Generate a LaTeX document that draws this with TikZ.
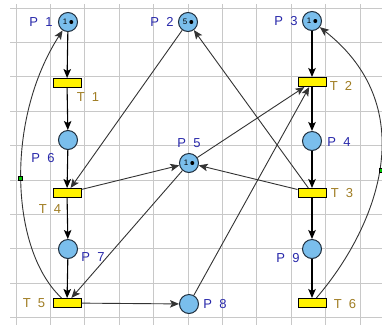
\documentclass[tikz,border=0pt]{standalone}
\usepackage{fontspec}
\setmainfont{Liberation Sans}
\newfontfamily\labfont[WordSpace=2]{Liberation Sans}
\usetikzlibrary{arrows.meta}
\definecolor{placefill}{RGB}{122,190,236}
\definecolor{placeline}{RGB}{30,45,60}
\definecolor{gridc}{RGB}{200,200,200}
\definecolor{plabel}{RGB}{40,40,170}
\definecolor{tlabel}{RGB}{160,125,35}
\definecolor{mark}{RGB}{0,200,0}
\tikzset{
  place/.style={circle,draw=placeline,fill=placefill,line width=1pt,minimum size=19pt,inner sep=0pt},
  trans/.style={rectangle,draw=black,fill=yellow,line width=1pt,minimum width=28pt,minimum height=9pt,inner sep=0pt},
  plab/.style={text=plabel,font=\labfont\fontsize{13}{15}\selectfont,inner sep=0pt},
  tlab/.style={text=tlabel,font=\labfont\fontsize{13}{15}\selectfont,inner sep=0pt},
  tok/.style={font=\fontsize{8}{9}\selectfont,inner sep=0pt},
  conn/.style={draw=black,line width=1.1pt,-{Stealth[length=9pt,width=7.5pt,inset=2pt]}},
  sconn/.style={draw=black!80,line width=0.9pt,-{Stealth[length=9pt,width=7.5pt,inset=2pt]}},
  gline/.style={draw=gridc,line width=1pt},
  handle/.style={rectangle,draw=black,fill=mark,line width=0.4pt,minimum size=4.5pt,inner sep=0pt}
}
\begin{document}
\begin{tikzpicture}[x=1pt,y=-1pt]
\useasboundingbox (0,0) rectangle (382,325);
\fill[white] (0,0) rectangle (382,325);
% grid
\foreach \i in {0,...,10} \draw[gline] (16+34.4*\i,4) -- (16+34.4*\i,325);
\foreach \j in {0,...,9} \draw[gline] (10,8+34.4*\j) -- (382,8+34.4*\j);
% places
\node[place] (P1) at (68,22) {};
\node[place] (P2) at (188,22) {};
\node[place] (P3) at (312,21) {};
\node[place] (P6) at (68,140) {};
\node[place] (P5) at (189,163) {};
\node[place] (P4) at (312,141) {};
\node[place] (P7) at (68,249) {};
\node[place] (P8) at (189,304) {};
\node[place] (P9) at (312,249) {};
% tokens
\node[tok] (k1) at ([xshift=-3pt]P1.center) {1};
\fill ([xshift=3.3pt]P1.center) circle (2);
\node[tok] (k2) at ([xshift=-3pt]P2.center) {5};
\fill ([xshift=3.3pt]P2.center) circle (2);
\node[tok] (k3) at ([xshift=-3pt]P3.center) {1};
\fill ([xshift=3.3pt]P3.center) circle (2);
\node[tok] (k5) at ([xshift=-3pt]P5.center) {1};
\fill ([xshift=3.3pt]P5.center) circle (2);
% transitions
\node[trans] (T1) at (67,83) {};
\node[trans] (T2) at (312,82) {};
\node[trans] (T4) at (67,193) {};
\node[trans] (T3) at (312,193) {};
\node[trans] (T5) at (67,303) {};
\node[trans] (T6) at (312,303) {};
% labels
\node[plab] (lP1) at (41,22) {P 1};
\node[plab] (lP2) at (162,22) {P 2};
\node[plab] (lP3) at (286,21) {P 3};
\node[plab] (lP6) at (43,158) {P 6};
\node[plab] (lP5) at (189,143) {P 5};
\node[plab] (lP4) at (339,142) {P 4};
\node[plab] (lP7) at (93,257) {P 7};
\node[plab] (lP8) at (215,304) {P 8};
\node[plab] (lP9) at (288,258) {P 9};
\node[tlab] (lT1) at (88,97) {T 1};
\node[tlab] (lT2) at (341,86) {T 2};
\node[tlab] (lT4) at (50,209) {T 4};
\node[tlab] (lT3) at (342,193) {T 3};
\node[tlab] (lT5) at (34,303) {T 5};
\node[tlab] (lT6) at (345,304) {T 6};
% vertical flow
\draw[conn] (P1) -- (T1);
\draw[conn] (T1) -- (P6);
\draw[conn] (P6) -- (T4);
\draw[conn] (T4) -- (P7);
\draw[conn] (P7) -- (T5);
\draw[conn] (P3) -- (T2);
\draw[conn] (T2) -- (P4);
\draw[conn] (P4) -- (T3);
\draw[conn] (T3) -- (P9);
\draw[conn] (P9) -- (T6);
% cross arcs
\draw[sconn] (T5) -- (P8);
\draw[sconn] (P8) -- (T2);
\draw[sconn] (P5) -- (T2);
\draw[sconn] (T4) -- (P5);
\draw[sconn] (T3) -- (P5);
\draw[sconn] (T3) -- (P2);
\draw[sconn] (P2) -- (T4);
\draw[sconn] (P5) -- (T5);
% curved arcs
\draw[sconn] (T5) .. controls (10,250) and (5,120) .. (P1);
\draw[sconn] (T6) .. controls (375,230) and (425,110) .. (P3);
\node[handle] (h1) at (20,178) {};
\node[handle] (h2) at (381,170) {};
\end{tikzpicture}
\end{document}
